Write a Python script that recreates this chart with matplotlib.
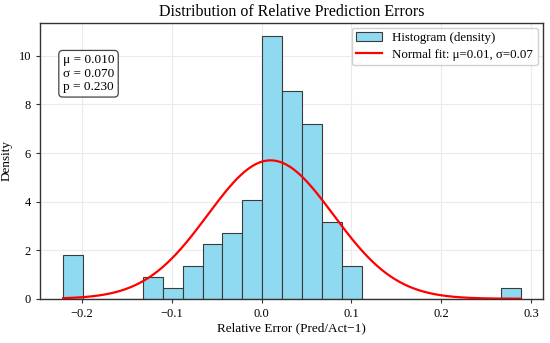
import numpy as np
import matplotlib
matplotlib.use('Agg')
import matplotlib.pyplot as plt

# histogram of relative errors (counts per bin, 100 samples)
hist_min = -0.221
hist_max = 0.289
bin_counts = [4, 0, 0, 0, 2, 1, 3, 5, 6, 9, 24, 19, 16, 7, 3, 0, 0, 0, 0, 0, 0, 0, 1]

# normal fit parameters
mu = 0.010
sigma = 0.070
p_value = 0.230

plt.rcParams['font.family'] = ['Liberation Serif', 'DejaVu Serif']

edges = np.linspace(hist_min, hist_max, len(bin_counts) + 1)
centers = (edges[:-1] + edges[1:]) / 2

fig, ax = plt.subplots(figsize=(5.5, 3.43), dpi=100)
ax.hist(centers, bins=edges, weights=bin_counts, density=True,
        color='#8fdaf0', edgecolor='#3a3a3a', linewidth=0.8,
        label='Histogram (density)', zorder=2)

xs = np.linspace(hist_min, hist_max, 400)
pdf = np.exp(-0.5 * ((xs - mu) / sigma) ** 2) / (sigma * np.sqrt(2 * np.pi))
ax.plot(xs, pdf, color='red', linewidth=1.6,
        label=f'Normal fit: μ={mu:.2f}, σ={sigma:.2f}', zorder=3)

ax.text(0.045, 0.885, f'μ = {mu:.3f}\nσ = {sigma:.3f}\np = {p_value:.3f}',
        transform=ax.transAxes, fontsize=9.5, va='top', ha='left',
        linespacing=1.15,
        bbox=dict(boxstyle='round,pad=0.3', fc='white', ec='#444444', lw=0.9))

ax.set_xlim(-0.2467, 0.3133)
ax.set_ylim(0, 11.37)
ax.set_title('Distribution of Relative Prediction Errors', fontsize=11.5, pad=5)
ax.set_xlabel('Relative Error (Pred/Act−1)', fontsize=9.5, labelpad=2)
ax.set_ylabel('Density', fontsize=9.5, labelpad=4)
ax.tick_params(labelsize=9, length=3, width=0.8, color='#333333')
ax.grid(True, color='#ebebeb', linewidth=0.8, zorder=0)
ax.set_axisbelow(True)
for s in ax.spines.values():
    s.set_color('#333333')
    s.set_linewidth(1.0)

ax.legend(loc='upper right', fontsize=9.3, framealpha=0.9, edgecolor='#cccccc',
          borderaxespad=0.4, handlelength=2.0, labelspacing=0.35,
          borderpad=0.35)

fig.subplots_adjust(left=0.073, right=0.987, top=0.934, bottom=0.129)
fig.savefig('out.png', dpi=100)
